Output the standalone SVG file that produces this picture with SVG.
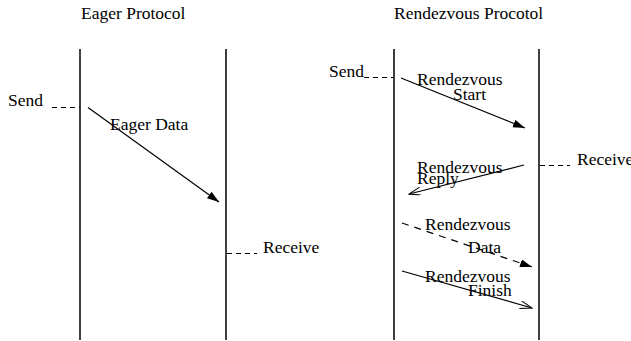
<svg xmlns="http://www.w3.org/2000/svg" width="631" height="341" viewBox="0 0 631 341">
<style>
text{font-family:"Liberation Serif","Times New Roman",serif;font-size:17.5px;fill:#000}
.life{stroke:#000;stroke-width:1.5;fill:none}
.dash{stroke:#000;stroke-width:1;stroke-dasharray:5,4;fill:none}
.msg{stroke:#000;stroke-width:1.2;fill:none}
</style>
<defs>
<marker id="fill" markerUnits="userSpaceOnUse" markerWidth="14" markerHeight="10" refX="12" refY="4" orient="auto"><path d="M0,0 L12,4 L0,8 z" fill="#000"/></marker>
<marker id="open" markerUnits="userSpaceOnUse" markerWidth="14" markerHeight="10" refX="12" refY="4" orient="auto"><path d="M0,0 L12,4 L0,8" fill="none" stroke="#000" stroke-width="1"/></marker>
</defs>
<g id="eager-title"><text x="81" y="19">Eager Protocol</text></g>
<g id="rdv-title"><text x="394" y="19">Rendezvous Procotol</text></g>
<g id="eager-sender"><line class="life" x1="80" y1="49" x2="80" y2="340"/></g>
<g id="eager-receiver"><line class="life" x1="226" y1="49" x2="226" y2="340"/></g>
<g id="rdv-sender"><line class="life" x1="394" y1="49" x2="394" y2="340"/></g>
<g id="rdv-receiver"><line class="life" x1="539" y1="49" x2="539" y2="340"/></g>
<g id="eager-send"><text x="8" y="106">Send</text><line class="dash" x1="52" y1="107.5" x2="80" y2="107.5"/></g>
<g id="eager-receive"><line class="dash" x1="227" y1="253.5" x2="257" y2="253.5"/><text x="263" y="253">Receive</text></g>
<g id="rdv-send"><text x="329" y="77">Send</text><line class="dash" x1="364" y1="77.5" x2="394" y2="77.5"/></g>
<g id="rdv-receive"><line class="dash" x1="540" y1="165.5" x2="570" y2="165.5"/><text x="577" y="165">Receive</text></g>
<g id="connectors">
<line class="msg" x1="88" y1="107.5" x2="219" y2="202" marker-end="url(#fill)"/>
<line class="msg" x1="401" y1="78" x2="525" y2="128" marker-end="url(#fill)"/>
<line class="msg" x1="524" y1="165" x2="409" y2="194" marker-end="url(#open)"/>
<line class="msg" x1="402" y1="223" x2="532" y2="267" stroke-dasharray="7,6" marker-end="url(#fill)"/>
<line class="msg" x1="402" y1="271" x2="532" y2="308" marker-end="url(#open)"/>
</g>
<g id="labels">
<text x="110" y="130">Eager Data</text>
<text x="417" y="85">Rendezvous</text>
<text x="453" y="100">Start</text>
<text x="417" y="173">Rendezvous</text>
<text x="417" y="184">Reply</text>
<text x="425" y="230">Rendezvous</text>
<text x="468" y="253">Data</text>
<text x="425" y="282">Rendezvous</text>
<text x="468" y="296">Finish</text>
</g>
</svg>
